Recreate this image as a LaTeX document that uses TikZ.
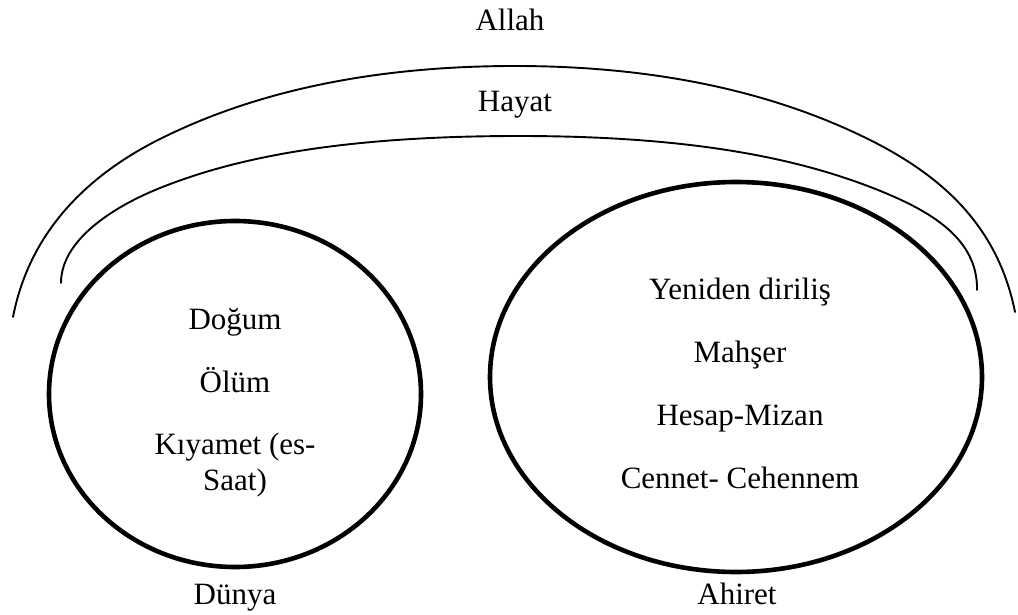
\documentclass[tikz,border=0pt]{standalone}
\usepackage{fontspec}
\setmainfont{Liberation Serif}
\newfontfamily\tnr{Liberation Serif}
\usetikzlibrary{shapes.geometric}

\tikzset{
  thinarc/.style={draw=black, line width=1.9pt, line cap=round},
  ring/.style={ellipse, draw=black, line width=4.6pt, inner sep=0pt},
  word/.style={anchor=base, inner sep=0pt, font=\tnr\fontsize{31}{36}\selectfont},
  stack/.style={word, align=center}
}

\begin{document}
\begin{tikzpicture}[x=1pt, y=-1pt]
  \useasboundingbox (0,0) rectangle (1018,615);

  % outer arc (Allah): two cubic pieces on each side of the apex
  \coordinate (oL) at (13,317);
  \coordinate (oML) at (160,139);
  \coordinate (oT) at (515,66);
  \coordinate (oMR) at (870,140);
  \coordinate (oR) at (1015,312);
  \draw[thinarc] (oL) .. controls (30.2,228.6) and (91.2,173.4) .. (oML)
                      .. controls (249.4,94.3) and (365,66) .. (oT)
                      .. controls (665,66) and (780.6,95.3) .. (oMR)
                      .. controls (938.8,174.4) and (997.4,223.7) .. (oR);

  % inner arc (Hayat), hooked at both ends
  \coordinate (iL) at (61,283);
  \coordinate (iML) at (160,188);
  \coordinate (iT) at (519,136);
  \coordinate (iMR) at (878,190);
  \coordinate (iR) at (977,290);
  \draw[thinarc] (iL) .. controls (61,238) and (118.2,204.7) .. (iML)
                      .. controls (234,158.3) and (339,136) .. (iT)
                      .. controls (699,136) and (803.8,160.3) .. (iMR)
                      .. controls (929,210.4) and (978,238) .. (iR);

  % the two worlds
  \node[ring, minimum width=372pt, minimum height=346pt] (dunya) at (235,394) {};
  \node[ring, minimum width=492pt, minimum height=390pt] (ahiret) at (736,377) {};

  % headings
  \node[word] (allah) at (510,31) {Allah};
  \node[word] (hayat) at (515,112) {Hayat};

  % contents of Dünya
  \node[word] (dogum) at (235,329) {Doğum};
  \node[word] (olum) at (235,392) {Ölüm};
  \node[stack, anchor=north] (kiyamet) at (235,433) {Kıyamet (es-\\Saat)};

  % contents of Ahiret
  \node[word] (yeniden) at (740,299) {Yeniden diriliş};
  \node[word] (mahser) at (740,362) {Mahşer};
  \node[word] (hesap) at (740,425) {Hesap-Mizan};
  \node[word] (cennet) at (740,488) {Cennet- Cehennem};

  % captions
  \node[word] (dunyacap) at (235,604) {Dünya};
  \node[word] (ahiretcap) at (737,604) {Ahiret};
\end{tikzpicture}
\end{document}
